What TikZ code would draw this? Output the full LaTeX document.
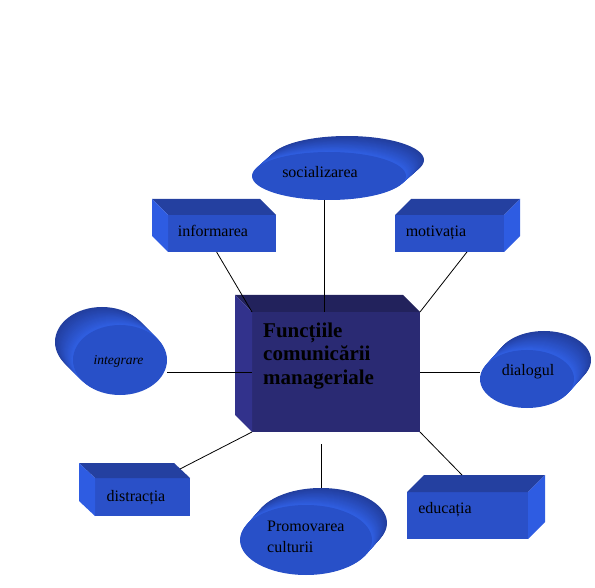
\documentclass[tikz,border=0pt]{standalone}
\usepackage{fontspec}
\setmainfont{Liberation Serif}
\usetikzlibrary{shapes.geometric,calc}
\definecolor{boxfront}{RGB}{42,80,200}
\definecolor{boxtop}{RGB}{36,64,160}
\definecolor{boxside}{RGB}{46,92,226}
\definecolor{corefront}{RGB}{42,42,115}
\definecolor{coretop}{RGB}{34,34,92}
\definecolor{coreside}{RGB}{50,50,140}
\definecolor{discfront}{RGB}{40,80,200}
\definecolor{discback}{RGB}{34,62,158}
\definecolor{discedge}{RGB}{48,96,228}

% #1 name, #2 centre, #3 width, #4 height, #5 depth shift, #6 side, #7 colour set
\newcommand{\cuboid}[7]{%
  \node[face, fill=#7front, minimum width=#3, minimum height=#4] (#1) at #2 {};
  \fill[#7top] (#1.north west) -- ($(#1.north west)+#5$) -- ($(#1.north east)+#5$) -- (#1.north east) -- cycle;
  \fill[#7side] (#1.north #6) -- ($(#1.north #6)+#5$) -- ($(#1.south #6)+#5$) -- (#1.south #6) -- cycle;
}
% #1 name, #2 centre, #3 x radius, #4 y radius, #5 depth shift
\newcommand{\disc}[5]{%
  \foreach \k in {0,...,19}{
    \pgfmathsetmacro{\fr}{1-\k/20}
    \pgfmathtruncatemacro{\pct}{\k*5}
    \fill[discedge!\pct!discback] ($#2+\fr*#5$) ellipse [x radius=#3, y radius=#4];
  }
  \node[discface, minimum width=2*#3, minimum height=2*#4] (#1) at #2 {};
}

\begin{document}
\begin{tikzpicture}[
    x=1pt, y=-1pt,
    face/.style={rectangle, inner sep=0pt, outer sep=0pt},
    discface/.style={ellipse, inner sep=0pt, outer sep=0pt, fill=discfront},
    txt/.style={font=\fontsize{16}{18}\selectfont, inner sep=0pt, anchor=base},
    link/.style={draw=black, line width=0.8pt}
]
    \useasboundingbox (0,0) rectangle (595,588);

    % central block
    \cuboid{core}{(336,372)}{168pt}{120pt}{(-17,-17)}{west}{core}

    % boxes
    \cuboid{inform}{(222,233.5)}{108pt}{37pt}{(-16,-16)}{west}{box}
    \cuboid{motiv}{(449.5,233.5)}{109pt}{37pt}{(16,-16)}{east}{box}
    \cuboid{distract}{(142.5,497)}{95pt}{38pt}{(-16,-15)}{west}{box}
    \cuboid{educ}{(467.5,515.5)}{121pt}{47pt}{(17,-17)}{east}{box}

    % discs
    \disc{social}{(329,176)}{77}{24}{(18,-16)}
    \disc{integr}{(120,360)}{47}{35}{(-18,-18)}
    \disc{dialog}{(527,379)}{47}{29}{(17,-19)}
    \disc{promo}{(306,540)}{66}{35}{(15,-17)}
    \coordinate (social-foot) at ($(social.south)+(-5,0)$);
    \coordinate (promo-back) at ($(promo.north)+(15,-17)$);

    % links
    \draw[link] (social-foot) -- (social-foot |- core.north);
    \draw[link] ($(inform.south west)!0.45!(inform.south east)$) -- (core.north west);
    \draw[link] ($(motiv.south west)!0.66!(motiv.south east)$) -- (core.north east);
    \draw[link] (core.west) -- (core.west -| integr.east);
    \draw[link] (core.east) -- (core.east -| dialog.west);
    \draw[link] ($(distract.north east)+(-10,-9)$) -- (core.south west);
    \draw[link, shorten >=12pt] (promo-back) -- (promo-back |- core.south);
    \draw[link] (core.south east) -- ($(educ.north west)+(55,-17)$);

    % texts
    \node[font=\bfseries\fontsize{21}{23.5}\selectfont, align=left, anchor=north west, inner sep=0pt] (core-txt) at (263,322.5) {Funcțiile\\comunicării\\manageriale};
    \node[txt] (social-txt) at (320,178) {socializarea};
    \node[txt] (inform-txt) at (213,237) {informarea};
    \node[txt] (motiv-txt) at (436,237) {motivația};
    \node[txt, font=\itshape\fontsize{13.5}{15}\selectfont] (integr-txt) at (118.5,364) {integrare};
    \node[txt] (dialog-txt) at (528,376) {dialogul};
    \node[txt] (distract-txt) at (136,501) {distracția};
    \node[txt] (educ-txt) at (445,513) {educația};
    \node[font=\fontsize{16}{21}\selectfont, align=left, anchor=north west, inner sep=0pt] (promo-txt) at (267,521) {Promovarea\\culturii};
\end{tikzpicture}
\end{document}
